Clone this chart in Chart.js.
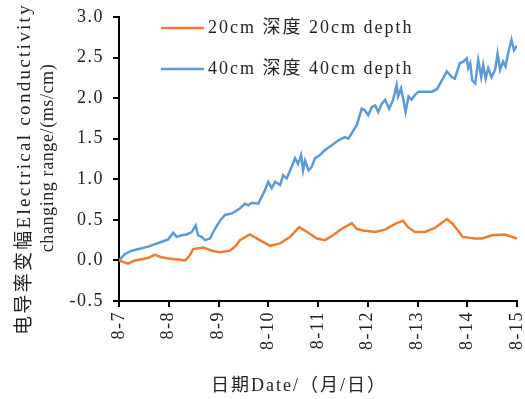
<!DOCTYPE html>
<html>
	<head>
		<meta charset="utf-8">
		<title>Electrical conductivity change</title>
		<style>
			body { margin: 0; background: #fff; }
		</style>
	</head>
	<body>
		<canvas id="canvasChart" width="525" height="399"></canvas>

		<script src="https://cdn.jsdelivr.net/npm/chart.js"></script>
		<script>
			// day labels on the x axis (0 = 8-7 ... 8 = 8-15)
			const dateLabels = ['8-7', '8-8', '8-9', '8-10', '8-11', '8-12', '8-13', '8-14', '8-15'];
			const yTicks = [-0.5, 0.0, 0.5, 1.0, 1.5, 2.0, 2.5, 3.0];

			// 20cm depth (days since 8-7, ms/cm)
			const orangeDays = [0.00, 0.18, 0.32, 0.58, 0.72, 0.85, 1.03, 1.20, 1.33, 1.42, 1.49, 1.60, 1.69, 1.87, 2.03, 2.23, 2.35, 2.43, 2.63, 2.83,
				3.04, 3.24, 3.44, 3.62, 3.78, 3.98, 4.14, 4.30, 4.48, 4.68, 4.78, 4.90, 5.15, 5.35, 5.55, 5.71, 5.81, 5.95, 6.15, 6.35,
				6.59, 6.71, 6.91, 7.16, 7.30, 7.50, 7.76, 8.00];
			const orangeValues = [0.00, -0.04, 0.00, 0.03, 0.07, 0.04, 0.02, 0.01, 0.00, 0.06, 0.14, 0.15, 0.16, 0.12, 0.10, 0.12, 0.18, 0.25, 0.32, 0.25,
				0.18, 0.21, 0.29, 0.41, 0.35, 0.27, 0.25, 0.31, 0.39, 0.46, 0.39, 0.37, 0.35, 0.38, 0.45, 0.49, 0.41, 0.35, 0.35, 0.40,
				0.51, 0.45, 0.29, 0.27, 0.27, 0.31, 0.32, 0.27];

			// 40cm depth
			const blueDays = [0.00, 0.12, 0.26, 0.39, 0.59, 0.72, 0.86, 0.99, 1.09, 1.16, 1.26, 1.36, 1.46, 1.54, 1.59, 1.66, 1.73, 1.83, 1.93, 2.03,
				2.13, 2.27, 2.43, 2.53, 2.60, 2.67, 2.80, 2.93, 3.00, 3.07, 3.14, 3.24, 3.30, 3.37, 3.44, 3.54, 3.60, 3.66, 3.70, 3.74,
				3.81, 3.87, 3.94, 4.04, 4.14, 4.28, 4.41, 4.54, 4.61, 4.71, 4.78, 4.88, 4.94, 5.01, 5.08, 5.15, 5.21, 5.28, 5.35, 5.43,
				5.51, 5.58, 5.61, 5.67, 5.71, 5.76, 5.82, 5.88, 5.95, 6.02, 6.15, 6.29, 6.39, 6.49, 6.59, 6.69, 6.75, 6.85, 6.92, 6.99,
				7.02, 7.06, 7.10, 7.16, 7.22, 7.28, 7.32, 7.37, 7.42, 7.49, 7.56, 7.61, 7.66, 7.72, 7.77, 7.82, 7.89, 7.94, 8.00];
			const blueValues = [0.00, 0.08, 0.12, 0.14, 0.17, 0.20, 0.23, 0.26, 0.34, 0.29, 0.31, 0.32, 0.35, 0.43, 0.31, 0.29, 0.25, 0.27, 0.39, 0.49,
				0.56, 0.58, 0.64, 0.70, 0.68, 0.71, 0.70, 0.86, 0.97, 0.89, 0.97, 0.93, 1.05, 1.01, 1.11, 1.26, 1.19, 1.30, 1.11, 1.23,
				1.11, 1.15, 1.26, 1.30, 1.36, 1.42, 1.48, 1.52, 1.50, 1.60, 1.67, 1.87, 1.85, 1.79, 1.89, 1.91, 1.83, 1.93, 1.98, 1.87,
				1.98, 2.16, 2.02, 2.12, 2.00, 1.83, 2.02, 1.98, 2.04, 2.08, 2.08, 2.08, 2.11, 2.22, 2.33, 2.26, 2.24, 2.43, 2.45, 2.49,
				2.37, 2.43, 2.22, 2.18, 2.47, 2.26, 2.41, 2.24, 2.37, 2.26, 2.35, 2.55, 2.35, 2.45, 2.39, 2.55, 2.72, 2.59, 2.65];

			const seriesNames = ['20cm 深度 20cm depth', '40cm 深度 40cm depth'];
			const seriesColors = ['#ED7D31', '#5B9BD5'];

			const yTitle = ['电导率变幅Electrical conductivity', 'changing range/(ms/cm)'];
			const xTitle = '日期Date/（月/日）';

			const serif = "'Liberation Serif', 'Noto Sans CJK SC', serif";

			function toPoints(days, values) {
				return days.map(function(d, i) { return {x: d, y: values[i]}; });
			}

			// the source figure uses loosely spaced type, so widen letters a bit
			const spacingPlugin = {
				id: 'spacing',
				beforeLayout: function(chart) { chart.ctx.letterSpacing = '1.5px'; },
				beforeDraw: function(chart) { chart.ctx.letterSpacing = '1.5px'; }
			};

			// legend sits inside the plot, titles placed by hand
			const decorPlugin = {
				id: 'decor',
				afterDraw: function(chart) {
					const ctx = chart.ctx;
					ctx.save();
					ctx.letterSpacing = '2px';
					ctx.fillStyle = '#222';
					ctx.textBaseline = 'middle';
					ctx.font = '18px ' + serif;
					const legendY = [28, 69];
					seriesNames.forEach(function(name, i) {
						ctx.strokeStyle = seriesColors[i];
						ctx.lineWidth = 2.5;
						ctx.beginPath();
						ctx.moveTo(161, legendY[i]);
						ctx.lineTo(204, legendY[i]);
						ctx.stroke();
						ctx.textAlign = 'left';
						ctx.fillText(name, 208, legendY[i]);
					});

					// x title
					ctx.textAlign = 'center';
					ctx.fillText(xTitle, 299, 386);

					// y title, two rotated lines (first one is set wider in the source)
					ctx.save();
					ctx.font = '19px ' + serif;
					ctx.letterSpacing = '2.3px';
					ctx.translate(25, 169);
					ctx.rotate(-Math.PI / 2);
					ctx.fillText(yTitle[0], 0, 0);
					ctx.restore();
					ctx.save();
					ctx.font = '18px ' + serif;
					ctx.letterSpacing = '0.6px';
					ctx.translate(48, 158);
					ctx.rotate(-Math.PI / 2);
					ctx.fillText(yTitle[1], 0, 0);
					ctx.restore();

					ctx.restore();
				}
			};

			var chart = new Chart(document.getElementById('canvasChart'), {
				type: 'line',
				data: {
					datasets: [{
						label: seriesNames[0],
						data: toPoints(orangeDays, orangeValues),
						borderColor: seriesColors[0],
						borderWidth: 2.5,
						pointRadius: 0,
						tension: 0
					}, {
						label: seriesNames[1],
						data: toPoints(blueDays, blueValues),
						borderColor: seriesColors[1],
						borderWidth: 2.5,
						pointRadius: 0,
						tension: 0
					}]
				},
				options: {
					responsive: false,
					animation: false,
					layout: { padding: { top: 17, right: 8, left: 0, bottom: 0 } },
					plugins: {
						legend: { display: false },
						tooltip: { enabled: false }
					},
					scales: {
						x: {
							type: 'linear',
							min: 0,
							max: dateLabels.length - 1,
							afterFit: function(s) {
								s.height = 98;
								s.paddingLeft = 0;
								s.paddingRight = 0;
							},
							afterBuildTicks: function(s) {
								s.ticks = dateLabels.map(function(l, i) { return {value: i}; });
							},
							ticks: {
								color: '#222',
								font: { family: serif, size: 18 },
								minRotation: 90,
								maxRotation: 90,
								padding: 4,
								callback: function(v) { return dateLabels[v]; }
							},
							grid: { drawOnChartArea: false, drawTicks: true, tickLength: 6, color: '#000', lineWidth: 2 },
							border: { color: '#000', width: 2 }
						},
						y: {
							min: yTicks[0],
							max: yTicks[yTicks.length - 1],
							afterFit: function(s) {
								s.width = 119;
								s.paddingTop = 0;
								s.paddingBottom = 0;
							},
							afterBuildTicks: function(s) {
								s.ticks = yTicks.map(function(v) { return {value: v}; });
							},
							ticks: {
								color: '#222',
								font: { family: serif, size: 18 },
								padding: 9,
								callback: function(v) { return v.toFixed(1); }
							},
							grid: { drawOnChartArea: false, drawTicks: true, tickLength: 6, color: '#000', lineWidth: 2 },
							border: { color: '#000', width: 2 }
						}
					}
				},
				plugins: [spacingPlugin, decorPlugin]
			});
		</script>
	</body>
</html>
